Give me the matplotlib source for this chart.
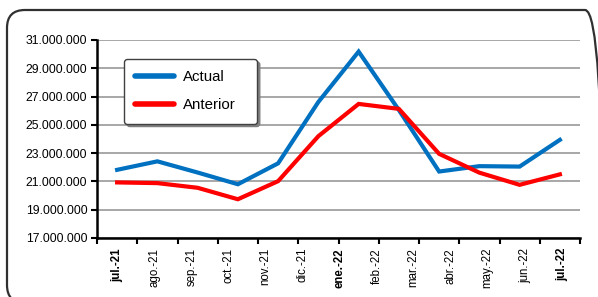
import numpy as np
import matplotlib
matplotlib.use("Agg")
from matplotlib import pyplot as plt
from matplotlib.patches import FancyBboxPatch

plt.rcParams['font.family'] = ['Liberation Sans', 'DejaVu Sans']

# data (millions)
month_labels = ['jul.-21', 'ago.-21', 'sep.-21', 'oct.-21', 'nov.-21', 'dic.-21', 'ene.-22',
                'feb.-22', 'mar.-22', 'abr.-22', 'may.-22', 'jun.-22', 'jul.-22']
bold_labels = ['jul.-21', 'ene.-22', 'jul.-22']
actual = [21.82, 22.42, 21.63, 20.80, 22.28, 26.62, 30.18, 26.05, 21.70, 22.08, 22.05, 23.94]
anterior = [20.93, 20.88, 20.55, 19.74, 21.02, 24.20, 26.48, 26.13, 22.95, 21.62, 20.76, 21.50]
y_ticks = [17, 19, 21, 23, 25, 27, 29, 31]

BLUE = '#0070C0'
RED = '#FF0000'

fig = plt.figure(figsize=(5.98, 2.97), dpi=100)
ax = fig.add_axes([97 / 598, 1 - 238 / 297, (580 - 97) / 598, (238 - 40) / 297])

x = np.arange(len(actual))
ax.plot(x, actual, color=BLUE, lw=3, label='Actual', solid_joinstyle='miter')
ax.plot(x, anterior, color=RED, lw=3, label='Anterior', solid_joinstyle='miter')

ax.set_xlim(-0.5, len(actual) - 0.5)
ax.set_ylim(y_ticks[0], y_ticks[-1])

# y axis
ax.set_yticks(y_ticks)
ax.set_yticklabels(['{:,}'.format(v * 1000000).replace(',', '.') for v in y_ticks], fontsize=8.8)
ax.yaxis.grid(True, color='#A0A0A0', lw=1.3)
ax.set_axisbelow(True)

# x axis: ticks at slot edges, labels spread over the points
ax.set_xticks(np.arange(len(actual) + 1) - 0.5)
ax.set_xticklabels([])
ax.tick_params(axis='both', direction='out', length=4, width=1.5, color='black', pad=3)
label_pos = np.linspace(0, len(actual) - 1 + 0.05, len(month_labels))
for pos, lab in zip(label_pos, month_labels):
    ax.text(pos, -0.05, lab, transform=ax.get_xaxis_transform(), rotation=90,
            ha='center', va='top', fontsize=8.3,
            fontweight='bold' if lab in bold_labels else 'normal')

for s in ['top', 'right']:
    ax.spines[s].set_visible(False)
ax.spines['left'].set_linewidth(1.8)
ax.spines['bottom'].set_linewidth(1.8)

leg = ax.legend(loc='upper left', mode='expand',
                bbox_to_anchor=(124 / 598, 1 - 127 / 297, 133 / 598, 68 / 297),
                bbox_transform=fig.transFigure, fontsize=10.8, handlelength=2.6,
                labelspacing=0.95, borderpad=0.75, handletextpad=0.6,
                frameon=True, fancybox=True, shadow={'color': '#7f7f7f', 'alpha': 1},
                borderaxespad=0)
leg.get_frame().set_edgecolor('#404040')
leg.get_frame().set_linewidth(1.0)
leg.get_frame().set_alpha(1)
for line in leg.get_lines():
    line.set_linewidth(4)
    line.set_solid_capstyle('round')

# rounded chart border (runs a little past the right and bottom edges)
border = FancyBboxPatch((7 / 598, -6 / 297), 596 / 598, 293 / 297,
                        boxstyle='round,pad=0,rounding_size=0.03',
                        transform=fig.transFigure, fill=False,
                        edgecolor='#303030', lw=1.6, mutation_aspect=598 / 297)
fig.patches.append(border)

fig.savefig('out.png', dpi=100)
